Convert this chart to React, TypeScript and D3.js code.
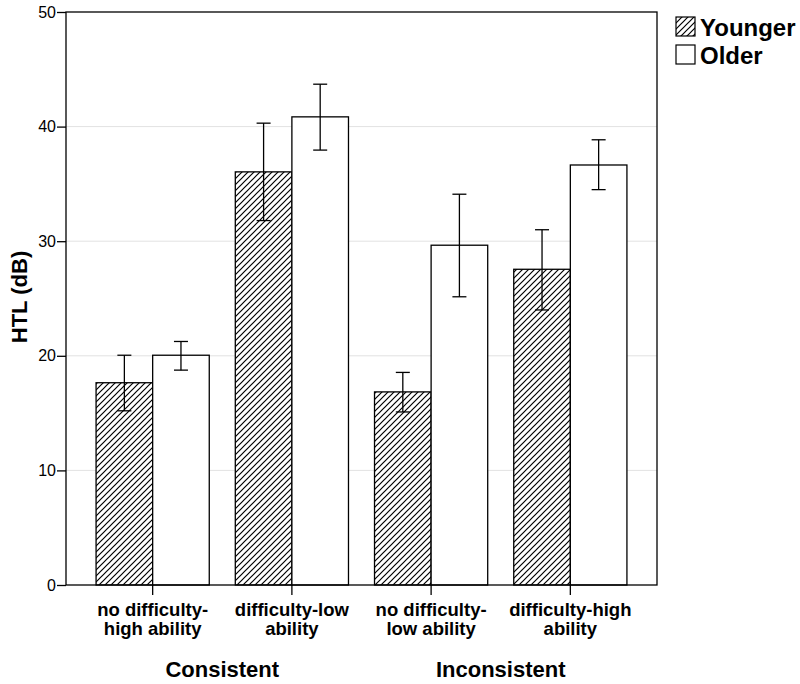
import { useEffect, useRef } from 'react';
import * as d3 from 'd3';

const conditions = ['c1', 'c2', 'c3', 'c4'];
const conditionLabels = [
  ['no difficulty-', 'high ability'],
  ['difficulty-low', 'ability'],
  ['no difficulty-', 'low ability'],
  ['difficulty-high', 'ability'],
];
const groupNames = ['Younger', 'Older'];
const youngerMean = [17.65, 36.05, 16.85, 27.55];
const youngerLow = [15.2, 31.8, 15.1, 24.0];
const youngerHigh = [20.05, 40.3, 18.55, 31.0];
const olderMean = [20.05, 40.85, 29.65, 36.65];
const olderLow = [18.75, 37.95, 25.15, 34.5];
const olderHigh = [21.25, 43.7, 34.1, 38.85];
const yTicks = [0, 10, 20, 30, 40, 50];
const blocks = [
  { label: 'Consistent', from: 'c1', to: 'c2' },
  { label: 'Inconsistent', from: 'c3', to: 'c4' },
];

export default function App() {
  const svgRef = useRef(null);

  useEffect(() => {
    const svg = d3.select(svgRef.current);
    svg.selectAll('*').remove();

    const margin = { top: 12, left: 66 };
    const width = 591;
    const height = 573;
    const font = 'Liberation Sans, Arial, sans-serif';

    const defs = svg.append('defs');
    const pat = defs.append('pattern')
      .attr('id', 'hatch')
      .attr('patternUnits', 'userSpaceOnUse')
      .attr('width', 6)
      .attr('height', 6);
    pat.append('rect').attr('width', 6).attr('height', 6).attr('fill', '#fff');
    pat.append('path')
      .attr('d', 'M0,6 L6,0 M-1,1 L1,-1 M5,7 L7,5')
      .attr('stroke', '#000')
      .attr('stroke-width', 1.2);

    const g = svg.append('g')
      .attr('transform', `translate(${margin.left},${margin.top})`);

    const x0 = d3.scaleBand()
      .domain(conditions)
      .range([0, width])
      .paddingInner(0.187)
      .paddingOuter(0.216);
    const x1 = d3.scaleBand()
      .domain(groupNames)
      .range([0, x0.bandwidth()]);
    const y = d3.scaleLinear().domain([0, 50]).range([height, 0]);

    // gridlines
    g.selectAll('.grid')
      .data(yTicks.filter(t => t > 0 && t < 50))
      .enter()
      .append('line')
      .attr('x1', 0)
      .attr('x2', width)
      .attr('y1', d => y(d))
      .attr('y2', d => y(d))
      .attr('stroke', '#e2e2e2')
      .attr('stroke-width', 1);

    const series = [
      { name: 'Younger', mean: youngerMean, lo: youngerLow, hi: youngerHigh, fill: 'url(#hatch)' },
      { name: 'Older', mean: olderMean, lo: olderLow, hi: olderHigh, fill: '#fff' },
    ];

    series.forEach(s => {
      g.selectAll(`.bar-${s.name}`)
        .data(conditions)
        .enter()
        .append('rect')
        .attr('x', d => x0(d) + x1(s.name))
        .attr('y', (d, i) => y(s.mean[i]))
        .attr('width', x1.bandwidth())
        .attr('height', (d, i) => y(0) - y(s.mean[i]))
        .attr('fill', s.fill)
        .attr('stroke', '#000')
        .attr('stroke-width', 1.3);
    });

    // error bars
    series.forEach(s => {
      conditions.forEach((c, i) => {
        const cx = x0(c) + x1(s.name) + x1.bandwidth() / 2;
        const eg = g.append('g').attr('stroke', '#000').attr('stroke-width', 1.3);
        eg.append('line').attr('x1', cx).attr('x2', cx).attr('y1', y(s.lo[i])).attr('y2', y(s.hi[i]));
        eg.append('line').attr('x1', cx - 7).attr('x2', cx + 7).attr('y1', y(s.lo[i])).attr('y2', y(s.lo[i]));
        eg.append('line').attr('x1', cx - 7).attr('x2', cx + 7).attr('y1', y(s.hi[i])).attr('y2', y(s.hi[i]));
      });
    });

    // frame
    g.append('rect')
      .attr('width', width)
      .attr('height', height)
      .attr('fill', 'none')
      .attr('stroke', '#000')
      .attr('stroke-width', 1.3);

    // y axis
    const yAxis = g.append('g')
      .call(d3.axisLeft(y).tickValues(yTicks).tickSize(9).tickPadding(1).tickSizeOuter(0));
    yAxis.select('.domain').remove();
    yAxis.selectAll('line').attr('stroke', '#000').attr('stroke-width', 1.3);
    yAxis.selectAll('text')
      .attr('font-family', font)
      .attr('font-size', 16)
      .attr('fill', '#000');

    svg.append('text')
      .attr('transform', `translate(27,297) rotate(-90)`)
      .attr('text-anchor', 'middle')
      .attr('font-family', font)
      .attr('font-size', 22)
      .attr('font-weight', 'bold')
      .text('HTL (dB)');

    // x ticks and labels
    conditions.forEach((c, i) => {
      const cx = x0(c) + x0.bandwidth() / 2;
      g.append('line')
        .attr('x1', cx).attr('x2', cx)
        .attr('y1', height).attr('y2', height + 10)
        .attr('stroke', '#000').attr('stroke-width', 1.3);
      conditionLabels[i].forEach((t, j) => {
        g.append('text')
          .attr('x', cx)
          .attr('y', height + 31 + j * 19)
          .attr('text-anchor', 'middle')
          .attr('font-family', font)
          .attr('font-size', 18.5)
          .attr('font-weight', 'bold')
          .text(t);
      });
    });

    blocks.forEach(b => {
      const cx = (x0(b.from) + x0(b.to) + x0.bandwidth()) / 2;
      g.append('text')
        .attr('x', cx)
        .attr('y', height + 92)
        .attr('text-anchor', 'middle')
        .attr('font-family', font)
        .attr('font-size', 22)
        .attr('font-weight', 'bold')
        .text(b.label);
    });

    // legend
    const legend = svg.append('g').attr('transform', 'translate(676,17)');
    series.forEach((s, i) => {
      const row = legend.append('g').attr('transform', `translate(0,${i * 28})`);
      row.append('rect')
        .attr('width', 19)
        .attr('height', 19)
        .attr('fill', s.fill)
        .attr('stroke', '#000')
        .attr('stroke-width', 1.2);
      row.append('text')
        .attr('x', 24)
        .attr('y', 19)
        .attr('font-family', font)
        .attr('font-size', 24)
        .attr('font-weight', 'bold')
        .text(s.name);
    });
  }, []);

  return (
    <svg
      ref={svgRef}
      width={800}
      height={684}
      style={{ position: 'absolute', left: 0, top: 0, background: '#fff' }}
    />
  );
}
